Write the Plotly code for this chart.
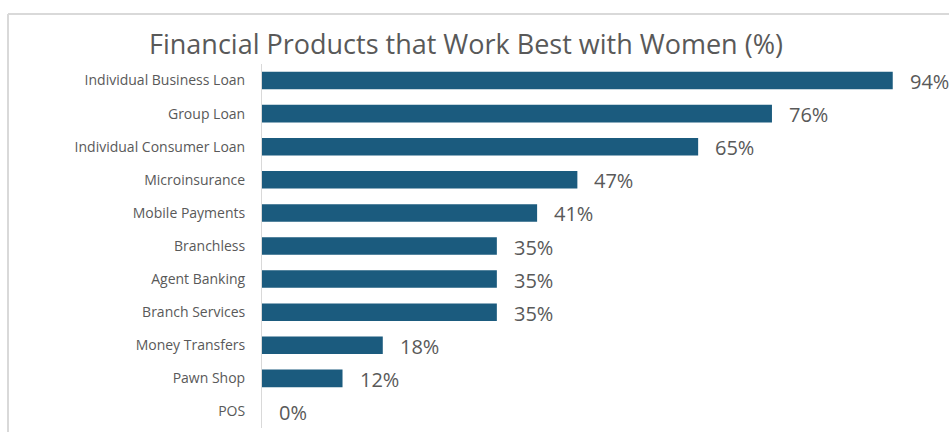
import plotly.graph_objects as go

categories = ["Individual Business Loan", "Group Loan", "Individual Consumer Loan",
              "Microinsurance", "Mobile Payments", "Branchless", "Agent Banking",
              "Branch Services", "Money Transfers", "Pawn Shop", "POS"]
values = [94, 76, 65, 47, 41, 35, 35, 35, 18, 12, 0]
labels = [f"{v}%" for v in values]

W, H = 949, 432
L, R, T, B = 262, 16, 64, 4
pw, ph = W - L - R, H - T - B

fig = go.Figure()
fig.add_trace(go.Bar(
    y=categories, x=values, orientation="h",
    marker=dict(color="#1b5b7e", line=dict(width=0)),
    width=0.53, hoverinfo="skip"))

for c, v, t in zip(categories, values, labels):
    fig.add_annotation(x=v, y=c, text=t, showarrow=False, xanchor="left",
                       yanchor="middle", xshift=15, yshift=-1,
                       font=dict(family="Open Sans", size=20, color="#595959"))

fig.update_layout(
    width=W, height=H, margin=dict(l=L, r=R, t=T, b=B),
    paper_bgcolor="white", plot_bgcolor="white", showlegend=False,
    title=dict(text="Financial Products that Work Best with Women (%)",
               x=(466) / W, xanchor="center", y=1 - 45 / H, yanchor="middle",
               font=dict(family="Open Sans", size=27, color="#595959")),
    xaxis=dict(range=[0, 100], showgrid=False, zeroline=False, showticklabels=False,
               showline=False, fixedrange=True),
    yaxis=dict(categoryorder="array", categoryarray=categories[::-1],
               showgrid=False, zeroline=False, showline=True, linecolor="#d9d9d9",
               linewidth=1, ticks="", ticklabelstandoff=13,
               tickfont=dict(family="Open Sans", size=14, color="#595959")),
)

# chart frame (top and left border)
fig.add_shape(type="line", xref="paper", yref="paper",
              x0=(8 - L) / pw, x1=(W + 5 - L) / pw,
              y0=(H - B - 14) / ph, y1=(H - B - 14) / ph,
              line=dict(color="#d9d9d9", width=2))
fig.add_shape(type="line", xref="paper", yref="paper",
              x0=(8 - L) / pw, x1=(8 - L) / pw,
              y0=(H - B - 14) / ph, y1=-0.1,
              line=dict(color="#d9d9d9", width=2))

fig.write_html("out.html")
